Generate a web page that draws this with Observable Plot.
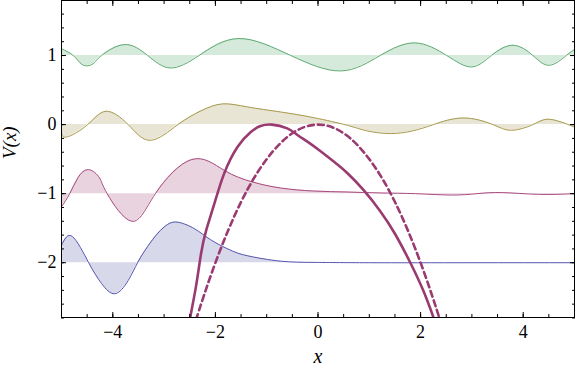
<!DOCTYPE html>
<html><head><meta charset="utf-8">
<script src="https://cdn.jsdelivr.net/npm/d3@7"></script>
<script src="https://cdn.jsdelivr.net/npm/@observablehq/plot@0.6"></script>
<style>body{margin:0;background:#fff;} #chart{width:576px;height:376px;}</style>
</head><body><div id="chart"></div>
<script>
// Tick labels
const xTicks = [-4, -2, 0, 2, 4];
const yTicks = [-2, -1, 0, 1];

// Energy levels (baselines of the wavefunctions)
const levelBlue = -2, levelMagenta = -1, levelOlive = 0, levelGreen = 1;

// Wavefunctions (x, V)
const blueX = [-5.0, -4.79, -4.47, -4.22, -3.96, -3.70, -3.51, -3.32, -3.12, -2.93, -2.77, -2.60, -2.45, -2.28, -2.02, -1.70, -1.37, -0.73, -0.08, 1.0, 3.0, 5.0];
const blueY = [-1.75, -1.619, -2.0, -2.30, -2.449, -2.257, -1.99, -1.764, -1.571, -1.445, -1.41, -1.44, -1.49, -1.57, -1.70, -1.82, -1.90, -1.977, -1.995, -2.0, -2.0, -2.0];

const magentaX = [-5.0, -4.84, -4.68, -4.47, -4.26, -4.11, -3.63, -3.17, -2.46, -1.83, -1.28, -0.73, -0.08, 0.57, 1.21, 1.9, 2.6, 3.1, 3.6, 4.3, 5.0];
const magentaY = [-1.19, -1.0, -0.77, -0.652, -0.77, -1.0, -1.40, -1.0, -0.505, -0.662, -0.83, -0.918, -0.962, -0.976, -0.99, -1.0, -1.02, -1.0, -0.985, -1.01, -1.0];

const oliveX = [-5.0, -4.9, -4.49, -4.13, -3.70, -3.27, -2.73, -2.28, -1.86, -1.37, -0.73, -0.08, 0.57, 0.95, 1.41, 1.85, 2.25, 2.83, 3.41, 3.77, 4.19, 4.51, 5.0];
const oliveY = [-0.10, -0.18, 0.0, 0.193, 0.0, -0.228, 0.0, 0.20, 0.30, 0.255, 0.183, 0.10, -0.01, -0.09, -0.13, -0.09, 0.0, 0.096, 0.0, -0.083, 0.0, 0.077, -0.035];

const greenX = [-5.0, -4.77, -4.64, -4.50, -4.36, -4.22, -3.77, -3.32, -2.88, -2.32, -1.54, -0.53, 0.44, 1.21, 1.89, 2.51, 2.99, 3.38, 3.80, 4.19, 4.51, 4.84, 5.0];
const greenY = [1.10, 1.0, 0.895, 0.85, 0.895, 1.0, 1.159, 1.0, 0.82, 1.0, 1.246, 1.0, 0.777, 1.0, 1.183, 1.0, 0.835, 1.0, 1.149, 1.0, 0.859, 1.0, 1.087];

// Potentials
const solidX = [-2.60, -2.49, -2.38, -2.28, -2.18, -2.02, -1.83, -1.57, -1.31, -1.12, -0.90, -0.60, -0.40, -0.20, 0.05, 0.30, 0.57, 0.89, 1.21, 1.50, 1.80, 2.05, 2.25, 2.40];
const solidY = [-3.3, -2.79, -2.35, -1.87, -1.53, -1.145, -0.71, -0.325, -0.107, -0.02, 0.0, -0.055, -0.15, -0.25, -0.385, -0.53, -0.70, -0.95, -1.25, -1.58, -2.0, -2.40, -2.79, -3.1];

const dashedX = [-2.6, -2.4, -2.0, -1.5, -1.0, -0.5, 0.0, 0.5, 1.0, 1.5, 2.0, 2.4, 2.6];
const dashedY = [-3.38, -2.88, -2.0, -1.12, -0.5, -0.125, 0.0, -0.125, -0.5, -1.12, -2.0, -2.88, -3.38];

const toRows = (xs, ys) => xs.map((x, i) => ({x, y: ys[i]}));
const waves = [
  {rows: toRows(blueX, blueY), level: levelBlue, fill: "#d8d8eb", stroke: "#5555b0"},
  {rows: toRows(magentaX, magentaY), level: levelMagenta, fill: "#e8d3df", stroke: "#a8497e"},
  {rows: toRows(oliveX, oliveY), level: levelOlive, fill: "#e8e5d4", stroke: "#a89a4e"},
  {rows: toRows(greenX, greenY), level: levelGreen, fill: "#d5eadb", stroke: "#5caa70"}
];
const potColor = "#993b70";
const fmt = d => d < 0 ? "\u2212" + Math.abs(d) : String(d);
const xMinor = d3.range(-5, 5.001, 0.5);
const yMinor = d3.range(-2.8, 1.801, 0.2).map(v => Math.round(v * 10) / 10);

const marks = [];
for (const w of waves) {
  marks.push(Plot.areaY(w.rows, {x: "x", y1: w.level, y2: "y", fill: w.fill, curve: "natural", clip: true}));
}
for (const w of waves) {
  marks.push(Plot.lineY(w.rows, {x: "x", y: "y", stroke: w.stroke, strokeWidth: 1, curve: "natural", clip: true}));
}
marks.push(Plot.line(toRows(dashedX, dashedY), {x: "x", y: "y", stroke: potColor, strokeWidth: 2.6, strokeDasharray: "6,4", curve: "natural", clip: true}));
marks.push(Plot.line(toRows(solidX, solidY), {x: "x", y: "y", stroke: potColor, strokeWidth: 2.6, curve: "natural", clip: true}));

// inward ticks on all four sides
marks.push(Plot.axisX(xMinor, {anchor: "bottom", tickSize: -3, fill: "none", label: null}));
marks.push(Plot.axisX(xTicks, {anchor: "bottom", tickSize: -5, fill: "none", label: null}));
marks.push(Plot.axisX(xMinor, {anchor: "top", tickSize: -3, fill: "none", label: null}));
marks.push(Plot.axisX(xTicks, {anchor: "top", tickSize: -5, fill: "none", label: null}));
marks.push(Plot.axisY(yMinor, {anchor: "left", tickSize: -3, fill: "none", label: null}));
marks.push(Plot.axisY(yTicks, {anchor: "left", tickSize: -5, fill: "none", label: null}));
marks.push(Plot.axisY(yMinor, {anchor: "right", tickSize: -3, fill: "none", label: null}));
marks.push(Plot.axisY(yTicks, {anchor: "right", tickSize: -5, fill: "none", label: null}));
// tick labels
marks.push(Plot.axisX(xTicks, {anchor: "bottom", tickSize: 0, tickPadding: 8, tickFormat: fmt, fontSize: 18, label: null}));
marks.push(Plot.axisY(yTicks, {anchor: "left", tickSize: 0, tickPadding: 5, tickFormat: fmt, fontSize: 18, label: null}));
// axis titles
marks.push(Plot.text(["V(x)"], {frameAnchor: "left", text: d => d, rotate: -90, dx: -52, fontSize: 19, fontStyle: "italic"}));
marks.push(Plot.text(["x"], {frameAnchor: "bottom", text: d => d, dy: 45, fontSize: 20, fontStyle: "italic"}));
marks.push(Plot.frame({stroke: "#000", strokeWidth: 1}));

const chart = Plot.plot({
  width: 576,
  height: 376,
  marginLeft: 61,
  marginRight: 2,
  marginTop: 0,
  marginBottom: 59,
  style: {fontFamily: "'Liberation Serif', 'Times New Roman', serif", fontSize: "18px", background: "#fff", color: "#000"},
  x: {domain: [-5, 5]},
  y: {domain: [-2.793, 1.797]},
  marks
});
document.getElementById("chart").appendChild(chart);
</script>
</body></html>
